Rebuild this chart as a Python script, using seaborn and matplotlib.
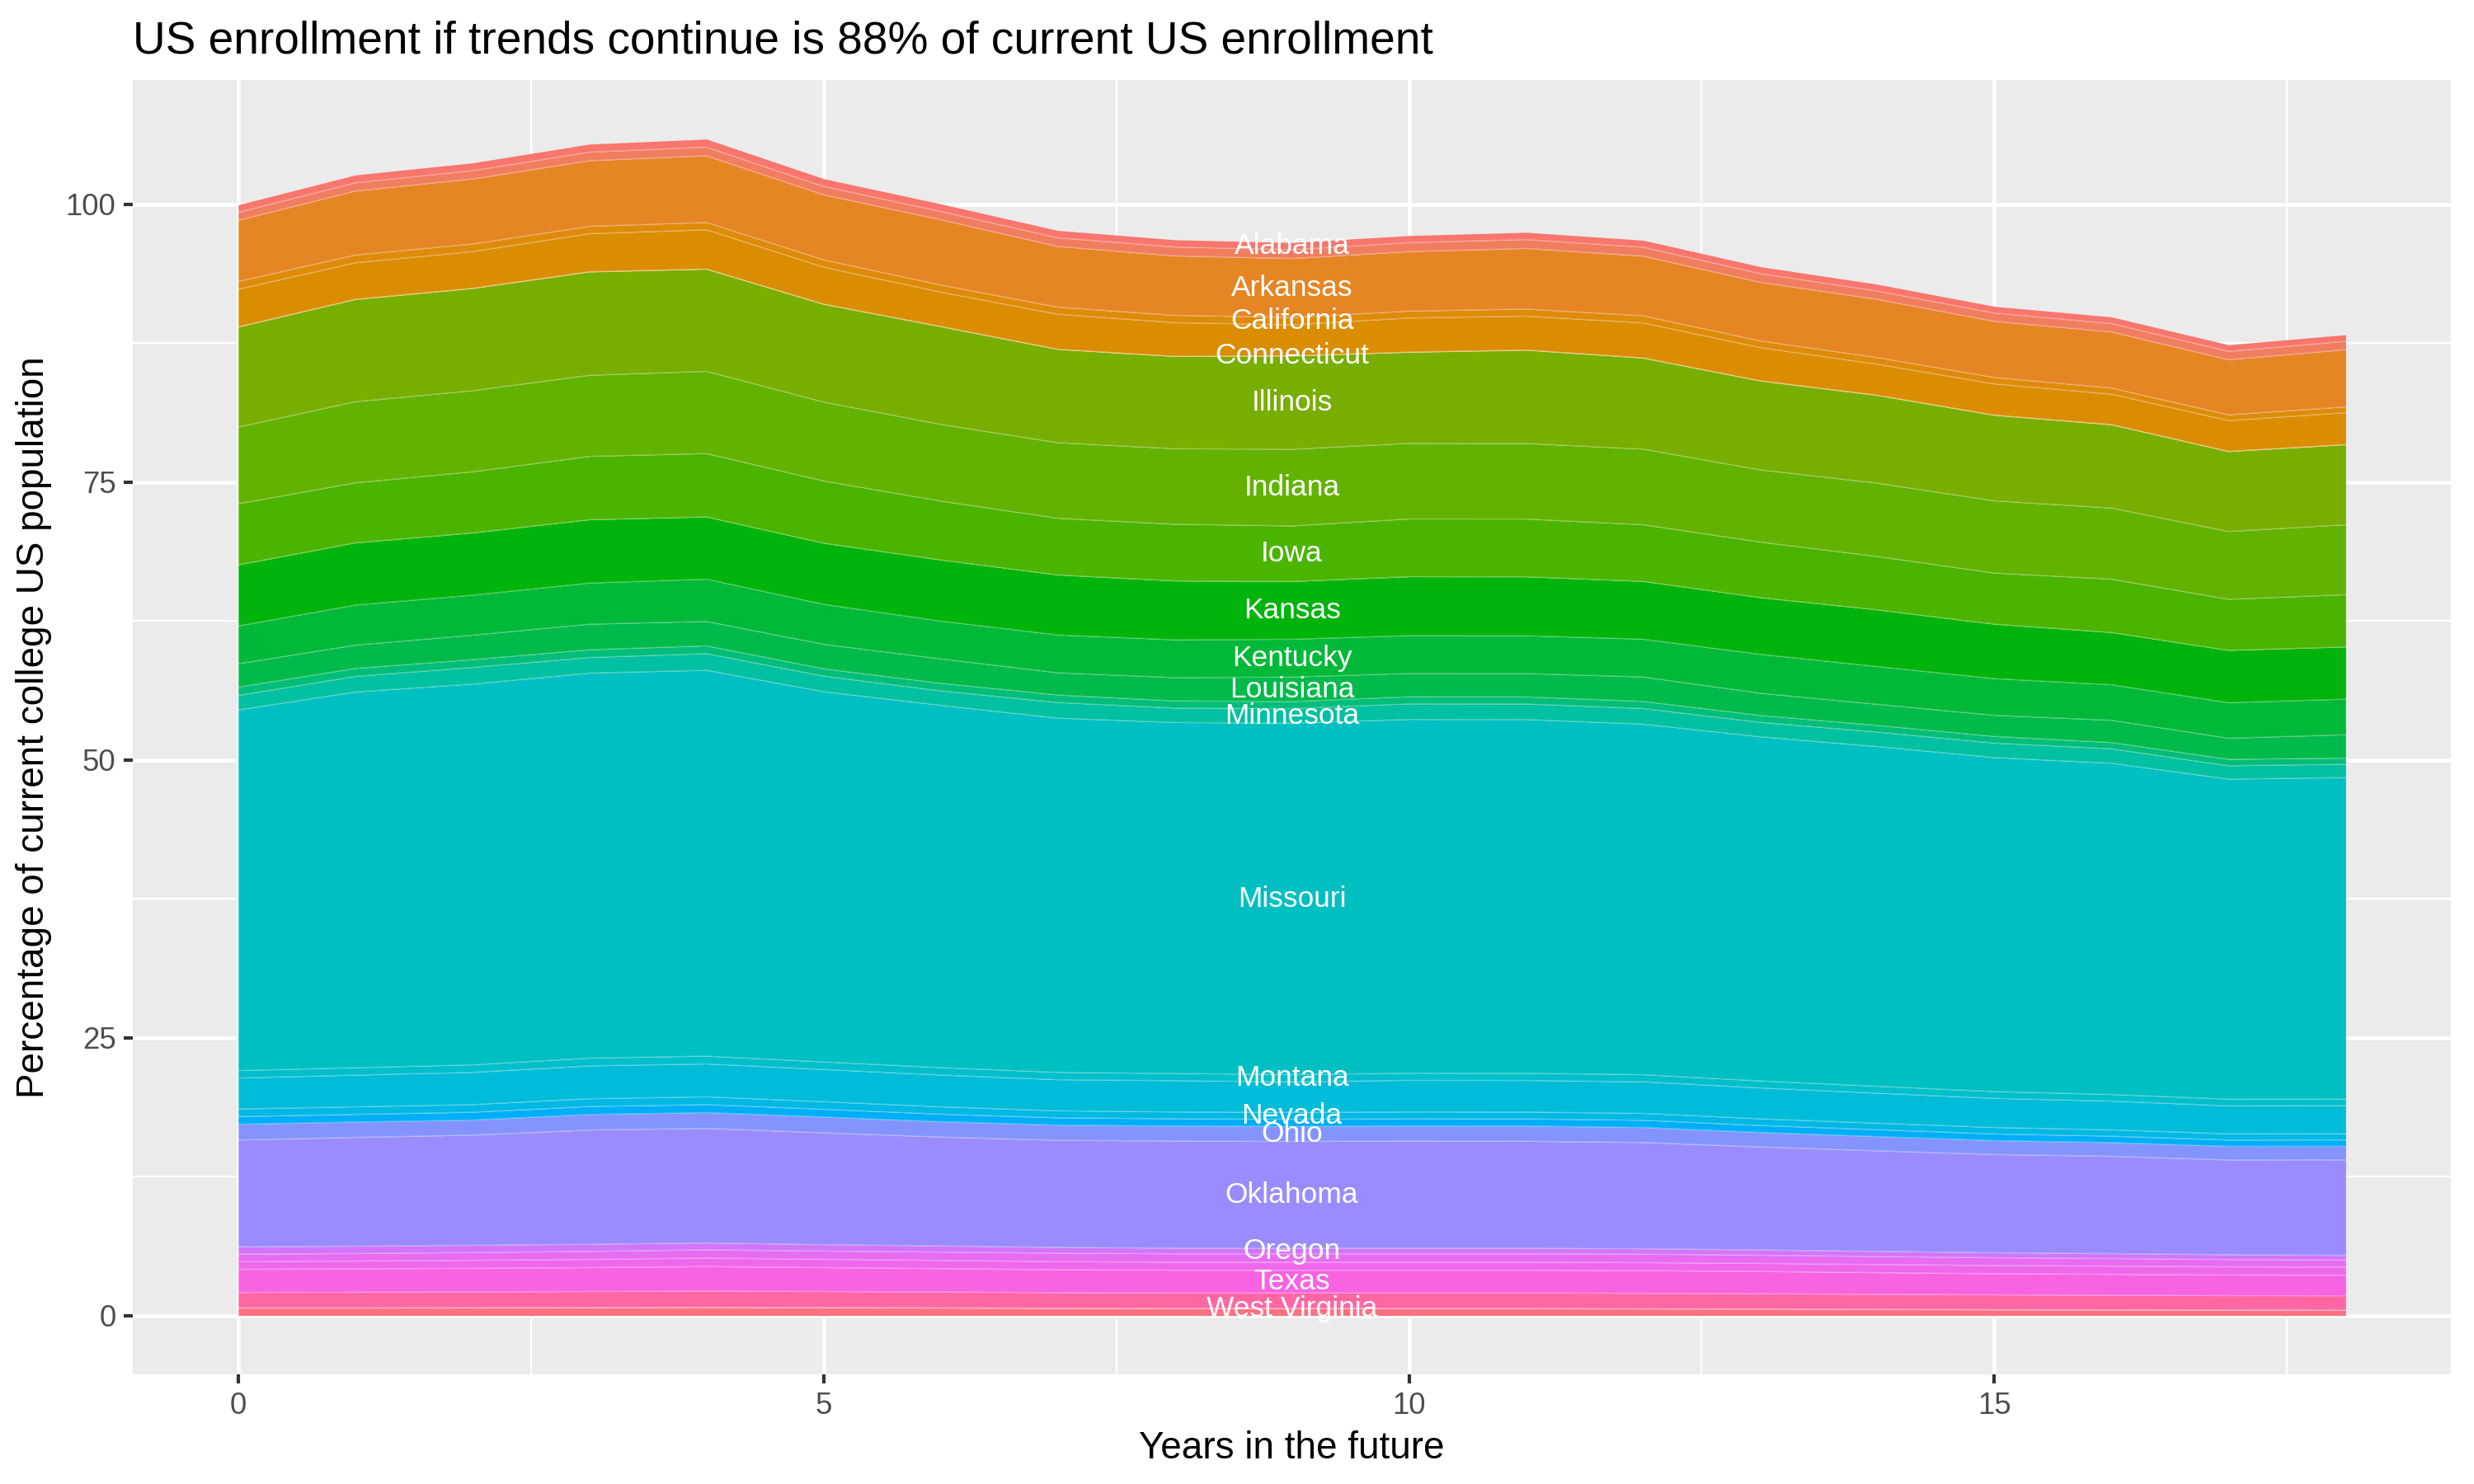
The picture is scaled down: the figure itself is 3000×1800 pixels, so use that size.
import matplotlib
matplotlib.use("Agg")
import matplotlib.pyplot as plt
import numpy as np
import pandas as pd
import seaborn as sns

# ---------------- data ----------------
years = [0, 1, 2, 3, 4, 5, 6, 7, 8, 9, 10, 11, 12, 13, 14, 15, 16, 17, 18]

alabama = [0.68, 0.70, 0.70, 0.72, 0.72, 0.70, 0.68, 0.66, 0.65, 0.64, 0.64, 0.65, 0.63, 0.62, 0.61, 0.60, 0.60, 0.59, 0.60]
arizona = [0.72, 0.74, 0.75, 0.77, 0.78, 0.75, 0.74, 0.78, 0.80, 0.80, 0.80, 0.80, 0.80, 0.78, 0.75, 0.75, 0.75, 0.75, 0.75]
arkansas = [5.50, 5.76, 5.85, 5.91, 6.00, 5.85, 5.88, 5.46, 5.35, 5.30, 5.36, 5.45, 5.37, 5.28, 5.24, 5.05, 5.05, 4.96, 5.15]
california = [0.70, 0.70, 0.68, 0.66, 0.66, 0.66, 0.64, 0.64, 0.66, 0.66, 0.62, 0.64, 0.64, 0.60, 0.60, 0.58, 0.55, 0.52, 0.52]
colorado = [3.40, 3.30, 3.32, 3.44, 3.54, 3.34, 3.10, 3.16, 3.04, 2.80, 3.08, 3.06, 3.16, 3.00, 2.80, 2.82, 2.75, 2.78, 2.88]
connecticut = [0, 0, 0, 0, 0, 0, 0, 0, 0, 0, 0, 0, 0, 0, 0, 0, 0, 0, 0]
illinois = [9.0, 9.2, 9.2, 9.3, 9.2, 8.8, 8.8, 8.4, 8.3, 8.4, 8.2, 8.4, 8.2, 8.0, 7.9, 7.7, 7.5, 7.2, 7.2]
indiana = [6.9, 7.3, 7.3, 7.3, 7.4, 7.1, 6.9, 6.8, 6.8, 6.9, 6.8, 6.8, 6.8, 6.5, 6.6, 6.5, 6.4, 6.1, 6.3]
iowa = [5.5, 5.4, 5.5, 5.7, 5.7, 5.6, 5.3, 5.1, 5.1, 5.0, 5.2, 5.2, 5.1, 5.0, 4.8, 4.6, 4.8, 4.6, 4.7]
kansas = [5.5, 5.6, 5.6, 5.7, 5.6, 5.5, 5.5, 5.4, 5.3, 5.2, 5.3, 5.3, 5.2, 5.1, 5.1, 4.9, 4.7, 4.7, 4.7]
kentucky = [3.4, 3.6, 3.6, 3.7, 3.8, 3.6, 3.4, 3.4, 3.4, 3.4, 3.4, 3.4, 3.4, 3.5, 3.4, 3.3, 3.2, 3.2, 3.2]
louisiana = [2.1, 2.1, 2.2, 2.3, 2.2, 2.2, 2.2, 2.0, 2.1, 2.2, 2.1, 2.1, 2.2, 2.0, 1.9, 1.9, 2.0, 1.9, 2.1]
michigan = [0.75, 0.72, 0.70, 0.70, 0.70, 0.66, 0.68, 0.68, 0.64, 0.64, 0.64, 0.64, 0.64, 0.62, 0.60, 0.60, 0.56, 0.58, 0.55]
minnesota = [1.3, 1.4, 1.5, 1.4, 1.5, 1.4, 1.3, 1.4, 1.3, 1.3, 1.4, 1.4, 1.4, 1.3, 1.3, 1.3, 1.3, 1.2, 1.2]
missouri = [32.46, 33.81, 34.26, 34.65, 34.72, 33.32, 32.60, 31.88, 31.58, 31.63, 31.83, 31.83, 31.55, 30.97, 30.57, 30.06, 29.81, 28.80, 28.93]
montana = [0.67, 0.67, 0.68, 0.70, 0.70, 0.68, 0.67, 0.66, 0.65, 0.65, 0.65, 0.65, 0.64, 0.63, 0.62, 0.61, 0.60, 0.60, 0.60]
nebraska = [2.79, 2.85, 2.90, 2.95, 2.96, 2.90, 2.86, 2.80, 2.81, 2.75, 2.84, 2.84, 2.84, 2.78, 2.70, 2.62, 2.58, 2.52, 2.52]
nevada = [0.68, 0.68, 0.69, 0.70, 0.70, 0.68, 0.66, 0.63, 0.62, 0.62, 0.62, 0.62, 0.62, 0.60, 0.59, 0.58, 0.57, 0.56, 0.56]
new_jersey = [0.69, 0.69, 0.70, 0.72, 0.72, 0.70, 0.68, 0.66, 0.65, 0.65, 0.65, 0.65, 0.65, 0.63, 0.62, 0.60, 0.58, 0.57, 0.57]
ohio = [1.42, 1.38, 1.36, 1.40, 1.42, 1.42, 1.38, 1.36, 1.35, 1.35, 1.35, 1.36, 1.35, 1.30, 1.28, 1.25, 1.23, 1.22, 1.22]
oklahoma = [9.61, 9.79, 9.91, 10.28, 10.31, 10.06, 9.80, 9.64, 9.64, 9.60, 9.64, 9.62, 9.56, 9.27, 9.05, 8.84, 8.76, 8.53, 8.60]
oregon = [0.66, 0.66, 0.65, 0.64, 0.62, 0.58, 0.55, 0.52, 0.50, 0.50, 0.50, 0.50, 0.49, 0.47, 0.46, 0.45, 0.44, 0.43, 0.42]
south_carolina = [0.67, 0.68, 0.70, 0.72, 0.74, 0.74, 0.75, 0.76, 0.76, 0.76, 0.76, 0.76, 0.76, 0.74, 0.72, 0.70, 0.68, 0.66, 0.62]
tennessee = [0.69, 0.70, 0.72, 0.74, 0.77, 0.75, 0.74, 0.73, 0.72, 0.72, 0.72, 0.72, 0.72, 0.73, 0.73, 0.74, 0.74, 0.74, 0.74]
texas = [2.08, 2.10, 2.12, 2.15, 2.20, 2.15, 2.10, 2.06, 2.05, 2.05, 2.05, 2.05, 2.04, 2.00, 1.95, 1.90, 1.88, 1.85, 1.85]
washington = [1.40, 1.42, 1.44, 1.46, 1.48, 1.46, 1.44, 1.42, 1.41, 1.41, 1.41, 1.41, 1.40, 1.38, 1.36, 1.34, 1.33, 1.31, 1.31]
west_virginia = [0, 0, 0, 0, 0, 0, 0, 0, 0, 0, 0, 0, 0, 0, 0, 0, 0, 0, 0]
wisconsin = [0.68, 0.68, 0.69, 0.70, 0.72, 0.70, 0.68, 0.64, 0.62, 0.62, 0.62, 0.62, 0.60, 0.58, 0.55, 0.52, 0.50, 0.48, 0.47]

# states listed from the top of the stack downwards
states = ["Alabama", "Arizona", "Arkansas", "California", "Colorado", "Connecticut",
          "Illinois", "Indiana", "Iowa", "Kansas", "Kentucky", "Louisiana", "Michigan",
          "Minnesota", "Missouri", "Montana", "Nebraska", "Nevada", "New Jersey", "Ohio",
          "Oklahoma", "Oregon", "South Carolina", "Tennessee", "Texas", "Washington",
          "West Virginia", "Wisconsin"]
series = [alabama, arizona, arkansas, california, colorado, connecticut, illinois, indiana,
          iowa, kansas, kentucky, louisiana, michigan, minnesota, missouri, montana, nebraska,
          nevada, new_jersey, ohio, oklahoma, oregon, south_carolina, tennessee, texas,
          washington, west_virginia, wisconsin]

labelled_states = ["Alabama", "Arkansas", "California", "Connecticut", "Illinois", "Indiana",
                   "Iowa", "Kansas", "Kentucky", "Louisiana", "Minnesota", "Missouri",
                   "Montana", "Nevada", "Ohio", "Oklahoma", "Oregon", "Texas", "West Virginia"]
label_year = 9

title = "US enrollment if trends continue is 88% of current US enrollment"
x_title = "Years in the future"
y_title = "Percentage of current college US population"

# ---------------- style ----------------
colors = {
    "Alabama": "#F8766D", "Arizona": "#F07D5E", "Arkansas": "#E68523", "California": "#DE8B0A",
    "Colorado": "#DA8D00", "Connecticut": "#D39200", "Illinois": "#77AE00", "Indiana": "#62B200",
    "Iowa": "#4AB400", "Kansas": "#00B40C", "Kentucky": "#00B938", "Louisiana": "#00BA4A",
    "Michigan": "#00BD7A", "Minnesota": "#00C0A2", "Missouri": "#00BFC2", "Montana": "#00BFCC",
    "Nebraska": "#00BCD8", "Nevada": "#00B8E4", "New Jersey": "#00AEF8", "Ohio": "#8593FF",
    "Oklahoma": "#9A8CFF", "Oregon": "#D275FB", "South Carolina": "#E76CF2",
    "Tennessee": "#EF68EB", "Texas": "#F763E0", "Washington": "#FF67A4",
    "West Virginia": "#FF6A95", "Wisconsin": "#FE717F",
}

sns.set_theme(style="darkgrid", rc={
    "axes.facecolor": "#EBEBEB",
    "figure.facecolor": "white",
    "grid.color": "white",
    "axes.edgecolor": "#EBEBEB",
    "xtick.bottom": True, "ytick.left": True,
    "xtick.color": "#333333", "ytick.color": "#333333",
    "xtick.major.size": 2.75, "ytick.major.size": 2.75,
    "xtick.major.width": 1.0, "ytick.major.width": 1.0,
    "xtick.major.pad": 2.2, "ytick.major.pad": 2.2,
})
plt.rcParams["font.family"] = ["Liberation Sans", "DejaVu Sans"]

df = pd.DataFrame({s: v for s, v in zip(states, series)}, index=years)
bottom_up = states[::-1]

fig = plt.figure(figsize=(10, 6), dpi=300)
ax = fig.add_axes([0.0537, 0.0739, 0.937, 0.872])

ax.stackplot(df.index, [df[s].values for s in bottom_up],
             colors=[colors[s] for s in bottom_up], linewidth=0, antialiased=True)

cum = df[bottom_up].cumsum(axis=1)
for s in bottom_up[:-1]:
    ax.plot(df.index, cum[s].values, color="white", alpha=0.28, lw=0.35, zorder=2)

# labels at the middle of each band for the label year
for s in labelled_states:
    top = cum.loc[label_year, s]
    mid = top - df.loc[label_year, s] / 2
    ax.text(label_year, mid, s, color="white", fontsize=8.5, ha="center", va="center",
            zorder=3)

total = df.sum(axis=1)
ymax = total.max()
ax.set_xlim(-0.05 * max(years), max(years) * 1.05)
ax.set_ylim(-0.05 * ymax, ymax * 1.05)

ax.set_xticks([0, 5, 10, 15])
ax.set_yticks([0, 25, 50, 75, 100])
ax.set_xticks([2.5, 7.5, 12.5, 17.5], minor=True)
ax.set_yticks([12.5, 37.5, 62.5, 87.5], minor=True)
ax.grid(which="major", color="white", lw=1.1)
ax.grid(which="minor", color="white", lw=0.55)
ax.tick_params(which="minor", length=0)
ax.tick_params(axis="both", which="major", labelsize=8.8, labelcolor="#4D4D4D")
for sp in ax.spines.values():
    sp.set_visible(False)

ax.set_xlabel(x_title, fontsize=11, color="black", labelpad=3)
ax.set_ylabel(y_title, fontsize=11, color="black", labelpad=4)
ax.set_title(title, loc="left", fontsize=13.2, color="black", pad=8)

fig.savefig("out.png", dpi=300)
